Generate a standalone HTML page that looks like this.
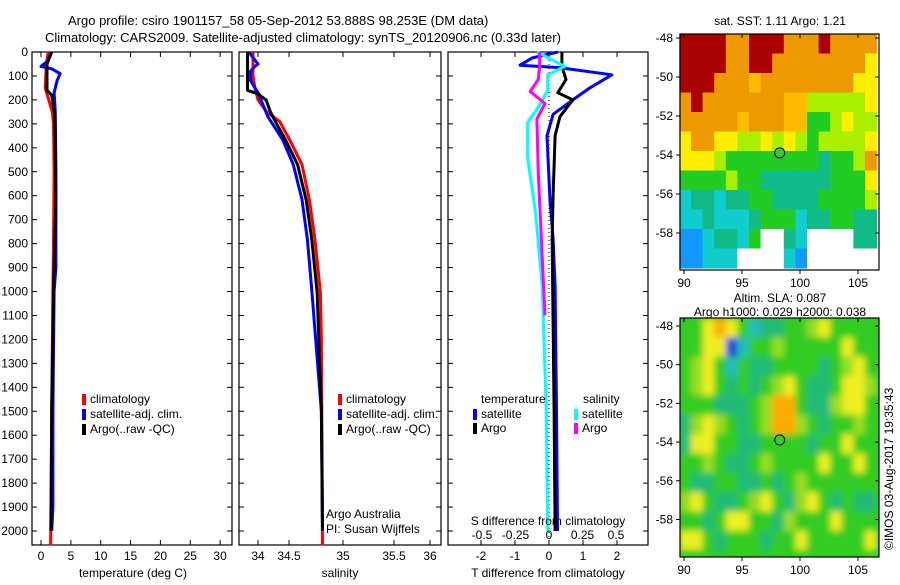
<!DOCTYPE html>
<html><head><meta charset="utf-8"><style>
body{margin:0;background:#fff;}
svg text{font-family:"Liberation Sans",sans-serif;font-size:12px;fill:#000;}
</style></head><body>
<svg id="c" width="900" height="580" viewBox="0 0 900 580" xmlns="http://www.w3.org/2000/svg">
<defs>
<filter id="bl" x="-5%" y="-5%" width="110%" height="110%"><feGaussianBlur stdDeviation="3.5"/></filter>
<clipPath id="slaclip"><rect x="680" y="318" width="199" height="239"/></clipPath>
</defs>
<rect width="900" height="580" fill="#fff"/>
<text x="68" y="25" style="font-size:13px">Argo profile: csiro 1901157_58 05-Sep-2012 53.888S 98.253E (DM data)</text>
<text x="45" y="42" style="font-size:13px">Climatology: CARS2009. Satellite-adjusted climatology: synTS_20120906.nc (0.33d later)</text>
<g id="g"></g>
</svg>
<script>
const depthTicks=[0,100,200,300,400,500,600,700,800,900,1000,1100,1200,1300,1400,1500,1600,1700,1800,1900,2000];
const tempTicks=[0,5,10,15,20,25,30];
const salTicks=[34,34.5,35,35.5,36];
const tdTicks=[-2,-1,0,1,2];
const sdTicks=[-0.5,-0.25,0,0.25,0.5];
// temperature panel
const tClimD=[0,50,100,150,200,250,300,500,800,1000,1500,2060];
const tClim=[1.2,0.9,0.8,0.7,1.3,1.9,2.1,2.2,2.1,2.0,1.8,1.6];
const tSatD=[0,40,60,70,90,120,170,250,500,900,1000,1500,1900,2000];
const tSat=[1.8,1.0,0.0,1.8,3.2,2.7,2.2,2.4,2.5,2.5,2.2,2.0,2.0,1.8];
const tArgoD=[0,50,160,180,260,600,1000,1500,2000];
const tArgo=[1.8,1.0,1.0,1.8,2.3,2.5,2.1,1.8,1.7];
// salinity panel
const sClimD=[0,100,150,200,250,290,370,470,620,780,1000,1200,2060];
const sClim=[33.92,33.92,33.95,34.0,34.14,34.35,34.51,34.62,34.69,34.74,34.79,34.8,34.81];
const sSatD=[0,50,60,80,120,170,270,367,470,616,783,990,1500,2000];
const sSat=[33.85,34.0,33.95,33.88,33.88,34.0,34.16,34.4,34.54,34.62,34.67,34.71,34.8,34.81];
const sArgoD=[0,160,175,200,250,300,370,470,620,780,1000,1500,2000];
const sArgo=[33.83,33.83,34.0,34.13,34.2,34.3,34.45,34.58,34.66,34.71,34.76,34.8,34.81];
// difference panel
const dTSatD=[0,25,55,65,95,150,200,260,350,620,780,980,1500,2000];
const dTSat=[0.26,-0.5,-0.85,0.3,1.85,1.2,0.7,0.12,-0.06,0.03,0.12,0.18,0.22,0.25];
const dTArgoD=[0,60,115,170,200,270,350,600,780,1500,2000];
const dTArgo=[0.38,0.38,0.5,0.26,0.7,0.32,0.18,0.12,0.09,0.15,0.18];
const dSSatD=[0,60,95,160,230,295,440,670,980,1500,2000];
const dSSat=[-0.09,0.12,-0.01,-0.01,-0.08,-0.16,-0.16,-0.1,-0.05,-0.02,-0.01];
const dSArgoD=[0,60,115,165,215,280,505,980,1100];
const dSArgo=[-0.07,-0.07,-0.08,-0.14,-0.03,-0.09,-0.08,-0.04,-0.03];
// maps
const latTicks=[-48,-50,-52,-54,-56,-58];
const lonTicks=[90,95,100,105];
const sstGrid=["RRRROORRROOOROOOO","RRRROORROOOOOOOOY","RRROOOoOOOOOOOOYY","OROOOOOOOooLLLLLY","OOOOOoOOOooGGLYLL","YOOYYLLYLYLGLLLLY","YYYLGGGGGGGGTGGLO","GGGGLGGTTTTTTGGGY","CTTCTTGGTTTTGGGGL","CCTCCCTGGGCTTGGTT","BBCTTCGWWTCWWWWTT","BBCCCWWWWCBWWWWWW"];
const slaGrid=["GGYOYGCTTGGLYGGGG","GGYYBCGGLGGGGGYGG","GLYGCGTTGGGGTGLYG","GLYGTGTGLYGTTGYYL","GGGTTTGLOOGTTLYYG","TLYLGTGLOOLGTGGLG","TYYGGTTGGGGTGGYGG","GGLGTTGLGGGGYGGYG","GTTGGTTGTGLGGGGGG","LYGTTGLYGTLYGTGTT","GGTGYYGGTLGGGYGGG","YYGTGGGTGGYGGGGGY"];
const argoLon=98.253, argoLat=-53.888;

const NS='http://www.w3.org/2000/svg';
const G=document.getElementById('g');
function mk(t,a,p){const e=document.createElementNS(NS,t);for(const k in a)e.setAttribute(k,a[k]);(p||G).appendChild(e);return e;}
const Y0=52,Y1=545;
const yD=d=>Y0+d*0.2395;
const xT=t=>41+t*5.97;
const sx=[34,34.5,35,35.5,36], sp=[258,289,343,394,430];
function xS(s){let i=0;if(s<=sx[0])i=0;else if(s>=sx[4])i=3;else{while(s>sx[i+1])i++;}return sp[i]+(s-sx[i])*(sp[i+1]-sp[i])/(sx[i+1]-sx[i]);}
const xDT=t=>549+t*34;
const xDS=s=>549+s*134;
function frame(x0,x1,name){const r=mk('rect',{x:x0,y:Y0,width:x1-x0,height:Y1-Y0,fill:'none',stroke:'#000','stroke-width':1.2});

depthTicks.forEach(d=>{const y=yD(d);mk('line',{x1:x0,x2:x0+5,y1:y,y2:y,stroke:'#000'});mk('line',{x1:x1-5,x2:x1,y1:y,y2:y,stroke:'#000'});});}
function line(ds,vs,fx,col,name,w,dash){const pts=ds.map((d,i)=>fx(vs[i]).toFixed(1)+','+yD(d).toFixed(1)).join(' ');
const e=mk('polyline',{points:pts,fill:'none',stroke:col,'stroke-width':w||3,'stroke-linejoin':'round'});if(dash)e.setAttribute('stroke-dasharray',dash);
}
function txt(x,y,s,anchor,name,size){const e=mk('text',{x:x,y:y,'text-anchor':anchor||'start'});if(size)e.style.fontSize=size+'px';e.textContent=s;return e;}
function xticks(arr,fx,y0,ly,fmt,name){arr.forEach(v=>{const x=fx(v);mk('line',{x1:x,x2:x,y1:Y1,y2:Y1-5,stroke:'#000'});mk('line',{x1:x,x2:x,y1:Y0,y2:Y0+5,stroke:'#000'});txt(x,ly,fmt?fmt(v):String(v),'middle',name);});}
// panel 1
frame(32,232,'temperature-panel');
depthTicks.forEach(d=>txt(28,yD(d)+4,String(d),'end','depth-tick-label'));
xticks(tempTicks,xT,0,560,null,'temperature-tick-label');
txt(133,577,'temperature (deg C)','middle','temperature-axis-title');
line(tClimD,tClim,xT,'#ff0000','temp-climatology-line');
line(tSatD,tSat,xT,'#0000ff','temp-satellite-line');
line(tArgoD,tArgo,xT,'#000000','temp-argo-line');
// panel 2
frame(239,441,'salinity-panel');
xticks(salTicks,xS,0,560,null,'salinity-tick-label');
txt(340,577,'salinity','middle','salinity-axis-title');
line(sClimD,sClim,xS,'#ff0000','sal-climatology-line');
line(sSatD,sSat,xS,'#0000ff','sal-satellite-line');
line(sArgoD,sArgo,xS,'#000000','sal-argo-line');
// panel 3
frame(448,648,'difference-panel');
xticks(tdTicks,xDT,0,560,null,'t-diff-tick-label');
mk('line',{x1:549,x2:549,y1:Y0,y2:Y1,stroke:'#000','stroke-dasharray':'1,3'});
line(dTSatD,dTSat,xDT,'#0000ff','tdiff-satellite-line');
line(dTArgoD,dTArgo,xDT,'#000000','tdiff-argo-line');
line(dSSatD,dSSat,xDS,'#00ffff','sdiff-satellite-line');
line(dSArgoD,dSArgo,xDS,'#ff00ff','sdiff-argo-line');
sdTicks.forEach(v=>txt(xDS(v),539,String(v),'middle','s-diff-tick-label'));
txt(548,525,'S difference from climatology','middle','s-diff-axis-title');
txt(548,577,'T difference from climatology','middle','t-diff-axis-title');
// legends
function leg(x,y,col,s,name){const r=mk('rect',{x:x,y:y-9,width:4,height:11,fill:col});txt(x+8,y,s,'start',name);}
[[82,'temperature'],[338,'salinity']].forEach(([x,n])=>{leg(x,403,'#ff0000','climatology',n+'-legend-climatology');leg(x,418,'#0000ff','satellite-adj. clim.',n+'-legend-satellite');leg(x,433,'#000000','Argo(..raw -QC)',n+'-legend-argo');});
txt(481,403,'temperature','start','legend-temperature-header');
txt(583,403,'salinity','start','legend-salinity-header');
leg(473,418,'#0000ff','satellite','legend-temp-satellite');
leg(473,432,'#000000','Argo','legend-temp-argo');
leg(574,418,'#00ffff','satellite','legend-sal-satellite');
leg(574,432,'#ff00ff','Argo','legend-sal-argo');
txt(326,518,'Argo Australia','start','credit-argo-australia');
txt(326,533,'PI: Susan Wijffels','start','credit-pi');
// maps
const COL={R:'#aa0000',O:'#ee9900',o:'#ffbb00',Y:'#ffee00',L:'#aaee00',G:'#22cc22',T:'#11bb88',C:'#11cccc',B:'#1199ff',W:'#ffffff'};
const SCOL={G:'#33cc22',T:'#22bb77',Y:'#eeee22',L:'#99dd22',O:'#ffaa00',B:'#2244dd',C:'#22bbbb'};
function map(grid,cols,top,bot,lat48,latStep,name,blur){
 const x0=680,x1=879,xL=v=>684+(v-90)*11.6,yL=v=>lat48+(-48-v)*latStep;
 const outer=mk('g',{});
 if(blur){outer.setAttribute('clip-path','url(#slaclip)');mk('rect',{x:x0,y:top,width:x1-x0,height:bot-top,fill:cols.G},outer);}
 const gg=mk('g',blur?{filter:'url(#bl)'}:{},outer);
 const latTop=-48+(lat48-top)/latStep;
 grid.forEach((row,r)=>{[...row].forEach((ch,c)=>{const la=latTop-r, lo=89.6+c;
  const x=xL(lo),y=yL(la),w=11.6+0.5,h=latStep+0.5;
  mk('rect',{x:x.toFixed(1),y:y.toFixed(1),width:Math.min(w,x1-x).toFixed(1),height:Math.min(h,bot-y).toFixed(1),fill:cols[ch]},gg);});});
 mk('rect',{x:x0,y:top,width:x1-x0,height:bot-top,fill:'none',stroke:'#000','stroke-width':1.2});
 latTicks.forEach(v=>{const y=yL(v);mk('line',{x1:x1-4,x2:x1,y1:y,y2:y,stroke:'#000'});mk('line',{x1:x0-4,x2:x0,y1:y,y2:y,stroke:'#000'});txt(673,y+4,String(v),'end','map-lat-label');});
 lonTicks.forEach(v=>{const x=xL(v);mk('line',{x1:x,x2:x,y1:bot,y2:bot+4,stroke:'#000'});mk('line',{x1:x,x2:x,y1:top,y2:top+4,stroke:'#000'});txt(x,bot+17,String(v),'middle','map-lon-label');});
 const c=mk('circle',{cx:xL(argoLon),cy:yL(argoLat),r:5,fill:'#33cc33',stroke:'#000'});
}
map(sstGrid,COL,34,270,38,19.5,'sst-map',false);
map(slaGrid,SCOL,318,557,326,19.35,'sla-map',true);
txt(780,25,'sat. SST: 1.11  Argo: 1.21','middle','sst-map-title');
txt(780,302,'Altim. SLA: 0.087','middle','sla-map-title');
txt(780,316,'Argo h1000: 0.029  h2000: 0.038','middle','sla-map-subtitle');
const v=txt(0,0,'©IMOS 03-Aug-2017 19:35:43','start','timestamp');v.setAttribute('transform','translate(893,550) rotate(-90)');
</script>
</body></html>
